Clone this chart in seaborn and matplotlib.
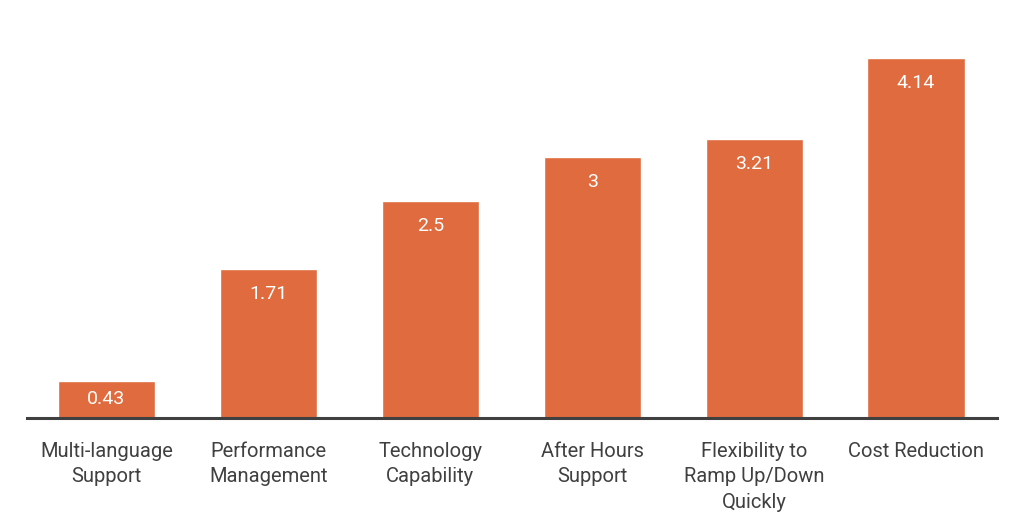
import matplotlib
matplotlib.use("Agg")
import matplotlib.pyplot as plt
import seaborn as sns
import pandas as pd

categories = ["Multi-language\nSupport", "Performance\nManagement", "Technology\nCapability",
              "After Hours\nSupport", "Flexibility to\nRamp Up/Down\nQuickly", "Cost Reduction"]
values = [0.43, 1.71, 2.5, 3, 3.21, 4.14]
value_labels = ["0.43", "1.71", "2.5", "3", "3.21", "4.14"]

sns.set_theme(style="white")
plt.rcParams['font.family'] = ['Roboto', 'DejaVu Sans']

df = pd.DataFrame({"category": categories, "value": values})

fig = plt.figure(figsize=(10.24, 5.30), dpi=100)
ax = fig.add_axes([27/1024, 112/530, 970/1024, 388/530])
sns.barplot(data=df, x="category", y="value", color="#E06B3E", saturation=1,
            width=0.6, ax=ax)

ax.set_xlim(-0.49, 5.5)
ax.set_ylim(0, 388/86.96)
for i, (v, lab) in enumerate(zip(values, value_labels)):
    hpx = v * 86.96
    off = min(25, hpx / 2)
    ax.annotate(lab, (i, v), xytext=(0, -off), textcoords="offset pixels",
                ha="center", va="center", color="white", fontsize=14)

for s in ["top", "right", "left"]:
    ax.spines[s].set_visible(False)
ax.spines["bottom"].set_color("#404040")
ax.spines["bottom"].set_linewidth(2.2)
ax.set_yticks([])
ax.set_xlabel("")
ax.set_ylabel("")
ax.tick_params(axis="x", length=0, pad=17, labelsize=14.5, labelcolor="#404040")
for t in ax.get_xticklabels():
    t.set_linespacing(1.45)

fig.savefig("out.png", dpi=100)
